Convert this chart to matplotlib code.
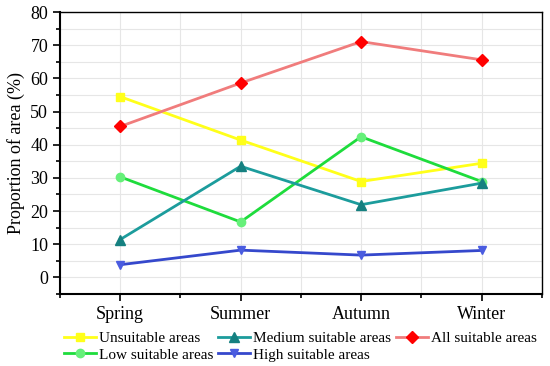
import matplotlib.pyplot as plt
from matplotlib.ticker import MultipleLocator

plt.rcParams['font.family'] = ['Liberation Serif', 'DejaVu Serif']

seasons = ['Spring', 'Summer', 'Autumn', 'Winter']
unsuitable = [54.5, 41.4, 28.9, 34.4]
low = [30.3, 16.7, 42.4, 28.9]
medium = [11.4, 33.5, 21.9, 28.4]
high = [3.8, 8.2, 6.7, 8.1]
all_suitable = [45.5, 58.6, 71.1, 65.6]

fig = plt.figure(figsize=(5.5, 3.66), dpi=100)
ax = fig.add_axes([0.109, 0.197, 0.876, 0.770])

x = range(len(seasons))
ax.plot(x, unsuitable, color='#FFFF1A', marker='s', ms=6, lw=2, label='Unsuitable areas')
ax.plot(x, low, color='#1EDC3C', marker='o', ms=6, mfc='#66F07A', mec='#66F07A', lw=2, label='Low suitable areas')
ax.plot(x, medium, color='#1C9C9C', marker='^', ms=7, mfc='#158080', mec='#158080', lw=2, label='Medium suitable areas')
ax.plot(x, high, color='#3548CC', marker='v', ms=6, mfc='#4A5CE0', mec='#4A5CE0', lw=2, label='High suitable areas')
ax.plot(x, all_suitable, color='#F07C7C', marker='D', ms=6, mfc='#FF0000', mec='#FF0000', lw=2, label='All suitable areas')

ax.set_xlim(-0.5, 3.5)
ax.set_ylim(-5, 80)
ax.set_xticks(list(x))
ax.set_xticklabels(seasons)
ax.xaxis.set_minor_locator(MultipleLocator(0.5))
ax.yaxis.set_major_locator(MultipleLocator(10))
ax.yaxis.set_minor_locator(MultipleLocator(5))
ax.grid(True, which='both', color='#E6E6E6', lw=0.8)
ax.set_axisbelow(True)

ax.tick_params(axis='both', which='major', labelsize=13, direction='out', length=5, width=1.2)
ax.tick_params(axis='both', which='minor', direction='out', length=3, width=1.2)
ax.tick_params(top=False, right=False, which='both')
for s in ['left', 'bottom']:
    ax.spines[s].set_linewidth(1.5)
for s in ['top', 'right']:
    ax.spines[s].set_linewidth(1.0)
ax.set_ylabel('Proportion of area (%)', fontsize=13)

ax.legend(ncol=3, loc='upper left', bbox_to_anchor=(0.008, -0.133), frameon=False,
          fontsize=11, handlelength=2.1, handletextpad=0.2, columnspacing=0.3,
          labelspacing=0.2, borderaxespad=0, borderpad=0)

fig.savefig('out.png', dpi=100)
